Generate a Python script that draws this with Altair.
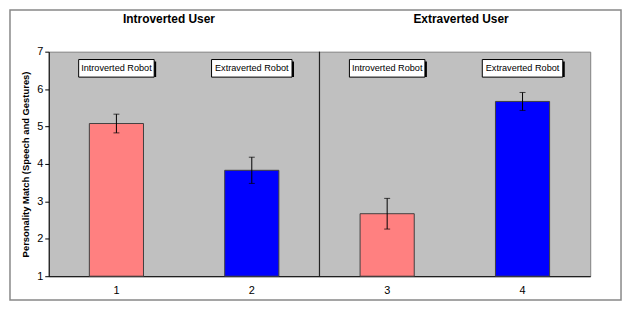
import altair as alt
import pandas as pd

categories = ["1", "2", "3", "4"]
robots = ["Introverted Robot", "Extraverted Robot", "Introverted Robot", "Extraverted Robot"]
means = [5.08, 3.83, 2.67, 5.67]
errors = [0.25, 0.35, 0.41, 0.24]
users = ["Introverted User", "Extraverted User"]
y_ticks = [1, 2, 3, 4, 5, 6, 7]

df = pd.DataFrame({"cat": categories, "robot": robots, "mean": means, "err": errors})
df["lo"] = df["mean"] - df["err"]
df["hi"] = df["mean"] + df["err"]

W, H = 545, 226
FONT = "Liberation Sans"

xenc = alt.X("cat:N", sort=categories,
             scale=alt.Scale(paddingInner=0.6, paddingOuter=0.3),
             axis=alt.Axis(labelAngle=0, ticks=False, title=None, domainColor="#000000",
                           labelFontSize=11, labelPadding=8, labelColor="#000000",
                           labelFont=FONT, grid=False))
yscale = alt.Scale(domain=[1, 7], nice=False, zero=False)
yaxis = alt.Axis(values=y_ticks, title="Personality Match (Speech and Gestures)",
                 titleFontSize=9.5, titleFont=FONT, titleFontWeight="bold", titleColor="#000000",
                 titlePadding=6, labelFontSize=11, labelFont=FONT, labelColor="#000000",
                 labelPadding=2, tickSize=4, tickColor="#000000", domainColor="#000000",
                 grid=False, labelOverlap=False, labelFlush=False, tickCount=7)

base = alt.Chart(df)
xc = alt.X("cat:N", sort=categories)

frame = alt.Chart(alt.Data(values=[{"a": 1}])).mark_rect(
    fill=None, stroke="#888888", strokeWidth=1.5
).encode(x=alt.value(-39), x2=alt.value(576), y=alt.value(-42), y2=alt.value(250))

divider = alt.Chart(alt.Data(values=[{"a": 1}])).mark_rule(color="#222222", strokeWidth=1.2).encode(
    x=alt.value(W / 2), y=alt.value(0), y2=alt.value(H))

bars = base.mark_bar(stroke="#404040", strokeWidth=1).encode(
    x=xenc,
    y=alt.Y("mean:Q", scale=yscale, axis=yaxis),
    y2=alt.datum(1),
    color=alt.Color("robot:N", scale=alt.Scale(domain=["Introverted Robot", "Extraverted Robot"],
                                               range=["#FF8080", "#0000FF"]), legend=None),
)

err_rule = base.mark_rule(color="#000000", strokeWidth=1).encode(
    x=xc, y=alt.Y("lo:Q", axis=yaxis, scale=yscale), y2="hi:Q")
cap_lo = base.mark_tick(orient="horizontal", size=6, thickness=1, color="#000000").encode(
    x=xc, y=alt.Y("lo:Q", axis=yaxis, scale=yscale))
cap_hi = base.mark_tick(orient="horizontal", size=6, thickness=1, color="#000000").encode(
    x=xc, y=alt.Y("hi:Q", axis=yaxis, scale=yscale))

box_size = alt.condition(alt.datum.robot == "Introverted Robot", alt.value(76), alt.value(81))
shadow = base.mark_bar(color="#000000", xOffset=2, yOffset=2).encode(
    x=xc, y=alt.Y(datum=6.79, axis=yaxis, scale=yscale), y2=alt.datum(6.32), size=box_size)
box = base.mark_bar(fill="#FFFFFF", stroke="#000000", strokeWidth=1).encode(
    x=xc, y=alt.Y(datum=6.79, axis=yaxis, scale=yscale), y2=alt.datum(6.32), size=box_size)
box_text = base.mark_text(font=FONT, fontSize=9.2, color="#000000").encode(
    x=xc, y=alt.Y(datum=6.555, axis=yaxis, scale=yscale), text="robot:N")

title1 = alt.Chart(alt.Data(values=[{"t": users[0]}])).mark_text(
    font=FONT, fontSize=12, fontWeight="bold", color="#000000").encode(
    x=alt.value(121), y=alt.value(-33), text="t:N")
title2 = alt.Chart(alt.Data(values=[{"t": users[1]}])).mark_text(
    font=FONT, fontSize=12, fontWeight="bold", color="#000000").encode(
    x=alt.value(415), y=alt.value(-33), text="t:N")

chart = alt.layer(
    frame, bars, divider, err_rule, cap_lo, cap_hi, shadow, box, box_text, title1, title2
).properties(
    width=W, height=H,
    autosize=alt.AutoSizeParams(type="none"),
    padding={"left": 41, "top": 43, "right": 34, "bottom": 25},
    background="#FFFFFF",
).configure_view(fill="#C0C0C0", stroke="#808080", strokeWidth=1)

chart.save("out.html", embed_options={"renderer": "svg", "actions": False})
